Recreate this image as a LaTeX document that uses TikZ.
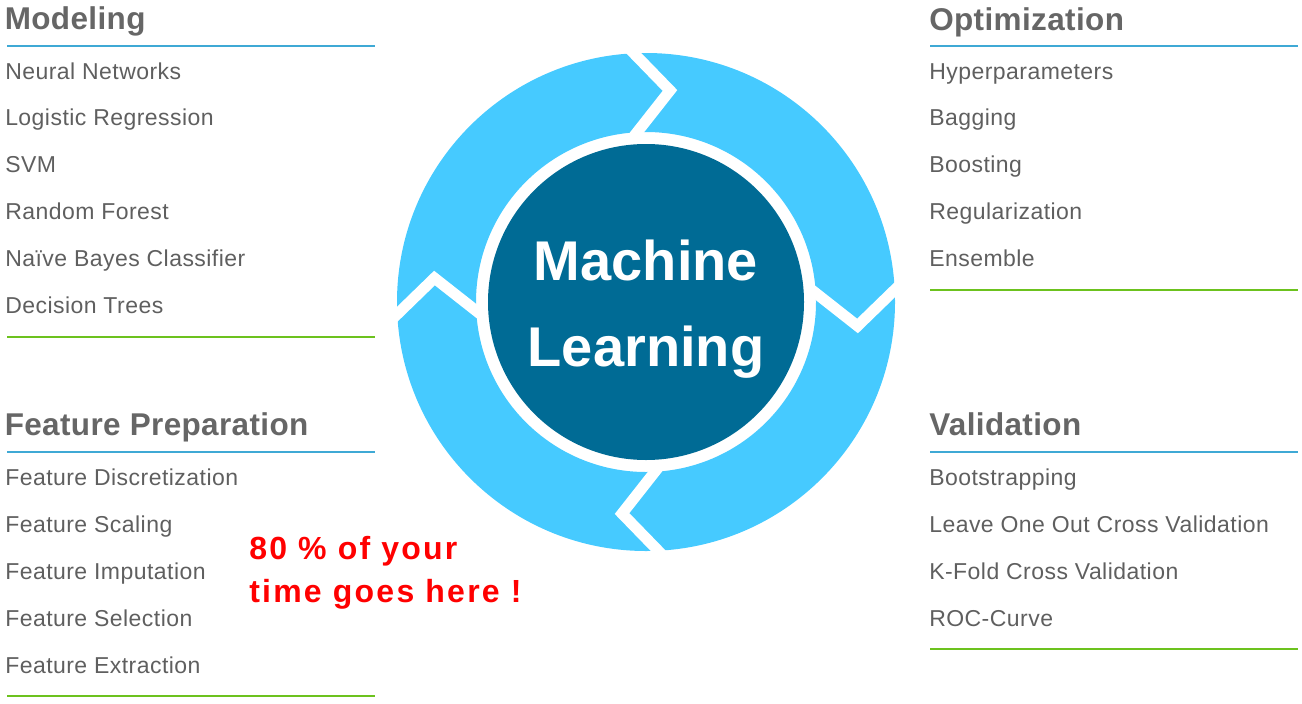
\documentclass[tikz,border=0pt]{standalone}
\usepackage{fontspec}
\setmainfont{Liberation Sans}
\usetikzlibrary{positioning}
\definecolor{celeste}{HTML}{46CAFF}
\definecolor{petroleo}{HTML}{006B95}
\definecolor{grisT}{HTML}{666666}
\definecolor{grisE}{HTML}{5F5F5F}
\definecolor{azulraya}{HTML}{3FA9D5}
\definecolor{verderaya}{HTML}{6CC21E}
\definecolor{rojo}{HTML}{FF0000}

\begin{document}
\begin{tikzpicture}[x=0.75pt,y=0.75pt,
      titulo/.style={anchor=base west,inner sep=0pt,text=grisT,
                     font=\fontsize{23.6}{28}\selectfont\bfseries\addfontfeatures{LetterSpace=1.2}},
      elem/.style={anchor=base west,inner sep=0pt,text=grisE,
                   font=\fontsize{17.25}{20}\selectfont\addfontfeatures{LetterSpace=2}},
      rayaazul/.style={draw=azulraya,line width=1.5pt},
      rayaverde/.style={draw=verderaya,line width=1.5pt},
      corte/.style={draw=white,line width=8.25pt,miter limit=10}]
    \useasboundingbox (0,0) rectangle (1302,-703);
    % anillo con flechas
    \fill[celeste,even odd rule] (646,-302) circle[radius=249] (646,-302) circle[radius=170];
    \foreach \a in {3,-87,-177,-267}
      \draw[corte,shift={(646,-302)},rotate=\a] (-10.5,262) -- (35,210) -- (-10.5,158);
    \fill[petroleo] (646,-302) circle[radius=158];
    \node[anchor=north,inner sep=0pt,align=center,text=white,
          font=\fontsize{42}{64.5}\selectfont\bfseries] (ml) at (646,-240) {Machine\\Learning};
    % Modeling
    \node[titulo] (tmod) at (4.5,-29.5) {Modeling};
    \draw[rayaazul] (7,-45.5) -- (375,-45.5);
    \foreach \t [count=\i from 0] in {Neural Networks,Logistic Regression,SVM,Random Forest,Naïve Bayes Classifier,Decision Trees}
      \node[elem] (mod\i) at (5,{-79-46.8*\i}) {\t};
    \draw[rayaverde] (7,-337) -- (375,-337);
    % Optimization
    \node[titulo] (topt) at (929,-30) {Optimization};
    \draw[rayaazul] (930,-45.5) -- (1298,-45.5);
    \foreach \t [count=\i from 0] in {Hyperparameters,Bagging,Boosting,Regularization,Ensemble}
      \node[elem] (opt\i) at (929,{-79-46.8*\i}) {\t};
    \draw[rayaverde] (930,-290) -- (1298,-290);
    % Feature Preparation
    \node[titulo] (tfea) at (4.5,-435) {Feature Preparation};
    \draw[rayaazul] (7,-451.7) -- (375,-451.7);
    \foreach \t [count=\i from 0] in {Feature Discretization,Feature Scaling,Feature Imputation,Feature Selection,Feature Extraction}
      \node[elem] (fea\i) at (5,{-485-47*\i}) {\t};
    \draw[rayaverde] (7,-696) -- (375,-696);
    % Validation
    \node[titulo] (tval) at (929,-435) {Validation};
    \draw[rayaazul] (930,-451.7) -- (1298,-451.7);
    \foreach \t [count=\i from 0] in {Bootstrapping,Leave One Out Cross Validation,K-Fold Cross Validation,ROC-Curve}
      \node[elem] (val\i) at (929,{-485-47*\i}) {\t};
    \draw[rayaverde] (930,-649) -- (1298,-649);
    % nota
    \node[anchor=north west,inner sep=0pt,align=left,text=rojo,
          font=\fontsize{24}{32.25}\selectfont\bfseries\addfontfeatures{LetterSpace=7}] (nota) at (249,-536) {80 \% of your\\time goes here !};
  \end{tikzpicture}
\end{document}
